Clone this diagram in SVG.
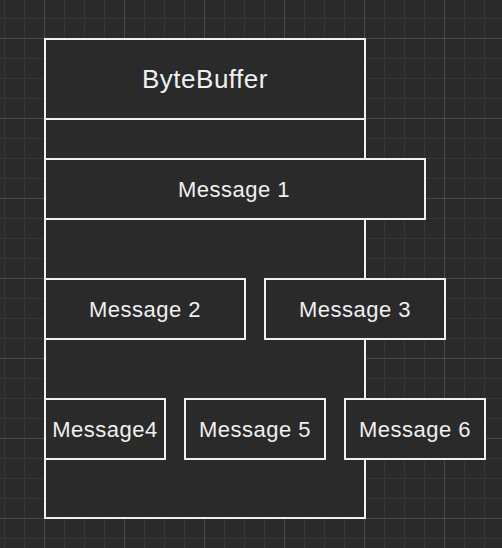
<svg xmlns="http://www.w3.org/2000/svg" width="502" height="548" viewBox="0 0 502 548">
  <defs>
    <pattern id="minor" width="20" height="20" patternUnits="userSpaceOnUse" x="4" y="18">
      <path d="M0.5 0V20M0 0.5H20" stroke="#363636" stroke-width="1" fill="none"/>
    </pattern>
    <pattern id="major" width="80" height="80" patternUnits="userSpaceOnUse" x="44" y="38">
      <path d="M0.5 0V80M0 0.5H80" stroke="#4a4a4a" stroke-width="1" fill="none"/>
    </pattern>
  </defs>
  <style>
    .box { fill: #2a2a2a; stroke: #f0f0f0; stroke-width: 2; }
    .lbl { fill: #f0f0f0; font-family: "Liberation Sans", Arial, Helvetica, sans-serif; font-size: 22px; letter-spacing: 0.5px; text-anchor: middle; }
    .title { font-size: 26px; }
  </style>
  <rect width="502" height="548" fill="#2a2a2a"/>
  <rect width="502" height="548" fill="url(#minor)"/>
  <rect width="502" height="548" fill="url(#major)"/>

  <g id="bytebuffer">
    <rect class="box" x="45" y="39" width="320" height="479"/>
    <rect class="box" x="45" y="39" width="320" height="80"/>
    <text class="lbl title" x="205" y="88">ByteBuffer</text>
  </g>
  <g id="message1">
    <rect class="box" x="45" y="159" width="380" height="60"/>
    <text class="lbl" x="234" y="197">Message 1</text>
  </g>
  <g id="message2">
    <rect class="box" x="45" y="279" width="200" height="60"/>
    <text class="lbl" x="145" y="317">Message 2</text>
  </g>
  <g id="message3">
    <rect class="box" x="265" y="279" width="180" height="60"/>
    <text class="lbl" x="355" y="317">Message 3</text>
  </g>
  <g id="message4">
    <rect class="box" x="45" y="399" width="120" height="60"/>
    <text class="lbl" x="105" y="437">Message4</text>
  </g>
  <g id="message5">
    <rect class="box" x="185" y="399" width="140" height="60"/>
    <text class="lbl" x="255" y="437">Message 5</text>
  </g>
  <g id="message6">
    <rect class="box" x="345" y="399" width="140" height="60"/>
    <text class="lbl" x="415" y="437">Message 6</text>
  </g>
  <g id="connectors"/>
</svg>
